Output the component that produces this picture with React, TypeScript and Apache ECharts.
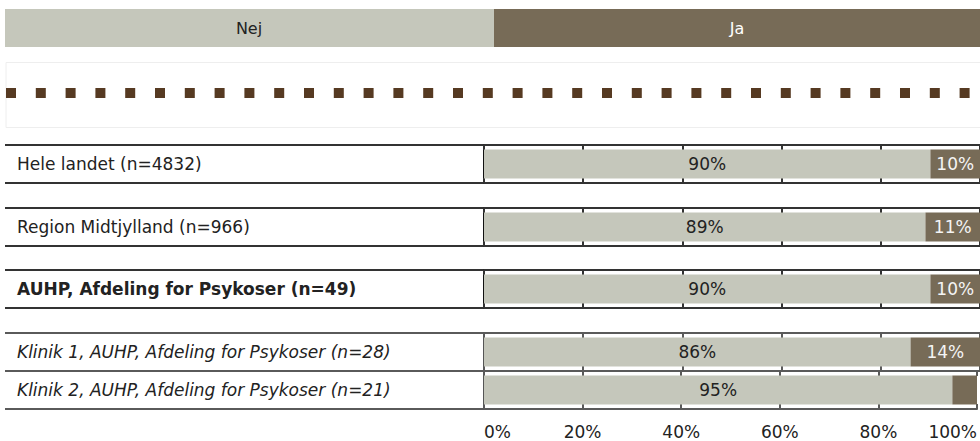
import React, { useEffect, useRef } from "react";
import * as echarts from "echarts";

const categories = [
  "Hele landet (n=4832)",
  "Region Midtjylland (n=966)",
  "AUHP, Afdeling for Psykoser (n=49)",
  "Klinik 1, AUHP, Afdeling for Psykoser (n=28)",
  "Klinik 2, AUHP, Afdeling for Psykoser (n=21)",
];
const nejValues = [90, 89, 90, 86, 95];
const jaValues = [10, 11, 10, 14, 5];
const legendNames = ["Nej", "Ja"];
const xMin = 0;
const xMax = 100;
const xInterval = 20;

const rowTops = [145, 208, 270, 333, 371];
const rowHeight = 38;
const NEJ = "#c5c7bb";
const JA = "#776b57";
const FONT = "DejaVu Sans";

export default function App() {
  const ref = useRef<HTMLDivElement>(null);
  useEffect(() => {
    document.body.style.margin = "0";
    const chart = echarts.init(ref.current!, null, { renderer: "svg" });
    const grids: any[] = [];
    const xAxes: any[] = [];
    const yAxes: any[] = [];
    const series: any[] = [];
    const graphics: any[] = [];

    categories.forEach((cat, i) => {
      const lineColor = i < 3 ? "#333333" : "#5a5a5a";
      const vColor = i < 3 ? "#111111" : "#555555";
      const last = i === categories.length - 1;
      grids.push({ left: 484, right: 0, top: rowTops[i], height: rowHeight, containLabel: false });
      const axisBase = {
        type: "value",
        gridIndex: i,
        min: xMin,
        max: xMax,
        interval: xInterval,
        splitLine: { show: false },
        axisLine: { show: true, lineStyle: { color: lineColor, width: 2 } },
        axisTick: { show: true, inside: true, length: 5, lineStyle: { color: lineColor, width: 2 } },
      };
      xAxes.push({
        ...axisBase,
        position: "bottom",
        axisLabel: {
          show: last,
          formatter: "{value}%",
          fontFamily: FONT,
          fontSize: 17,
          color: "#222",
          margin: 14,
          alignMinLabel: "left",
          alignMaxLabel: "right",
        },
      });
      xAxes.push({ ...axisBase, position: "top", axisLabel: { show: false } });
      yAxes.push({
        type: "category",
        gridIndex: i,
        data: [cat],
        axisLine: { show: true, lineStyle: { color: vColor, width: 2 } },
        axisTick: { show: false },
        axisLabel: {
          align: "left",
          margin: 467,
          fontFamily: FONT,
          fontSize: 17,
          color: "#222",
          fontWeight: i === 2 ? "bold" : "normal",
          fontStyle: i >= 3 ? "italic" : "normal",
        },
      });
      series.push({
        type: "bar",
        name: legendNames[0],
        xAxisIndex: i * 2,
        yAxisIndex: i,
        stack: "s" + i,
        barWidth: 29,
        itemStyle: { color: NEJ },
        label: { show: true, position: "inside", formatter: "{c}%", color: "#222", fontFamily: FONT, fontSize: 17 },
        data: [nejValues[i]],
      });
      series.push({
        type: "bar",
        name: legendNames[1],
        xAxisIndex: i * 2,
        yAxisIndex: i,
        stack: "s" + i,
        barWidth: 29,
        itemStyle: { color: JA },
        label: { show: true, position: "inside", formatter: "{c}%", color: "#f4f4f4", fontFamily: FONT, fontSize: 17 },
        data: [{ value: jaValues[i], label: { show: jaValues[i] >= 7 } }],
      });
      graphics.push({
        type: "line",
        shape: { x1: 5, y1: rowTops[i], x2: 484, y2: rowTops[i] },
        style: { stroke: lineColor, lineWidth: 2 },
      });
      graphics.push({
        type: "line",
        shape: { x1: 5, y1: rowTops[i] + rowHeight, x2: 484, y2: rowTops[i] + rowHeight },
        style: { stroke: lineColor, lineWidth: 2 },
      });
    });

    graphics.push(
      { type: "rect", shape: { x: 5, y: 9, width: 489, height: 38 }, style: { fill: NEJ } },
      {
        type: "text",
        x: 249,
        y: 28,
        style: { text: legendNames[0], fill: "#222", font: `16px ${FONT}`, align: "center", verticalAlign: "middle" },
      },
      { type: "rect", shape: { x: 494, y: 9, width: 486, height: 38 }, style: { fill: JA } },
      {
        type: "text",
        x: 737,
        y: 28,
        style: { text: legendNames[1], fill: "#ffffff", font: `16px ${FONT}`, align: "center", verticalAlign: "middle" },
      },
      {
        type: "rect",
        shape: { x: 6, y: 62.5, width: 980, height: 65 },
        style: { fill: "none", stroke: "#eeeeee", lineWidth: 1 },
      },
      {
        type: "line",
        shape: { x1: 6, y1: 93, x2: 980, y2: 93 },
        style: { stroke: "#563a22", lineWidth: 10, lineDash: [10, 19.8] },
      }
    );

    chart.setOption({
      animation: false,
      backgroundColor: "#ffffff",
      grid: grids,
      xAxis: xAxes,
      yAxis: yAxes,
      series,
      graphic: graphics,
    });
    return () => chart.dispose();
  }, []);
  return <div ref={ref} style={{ width: 980, height: 441 }} />;
}
